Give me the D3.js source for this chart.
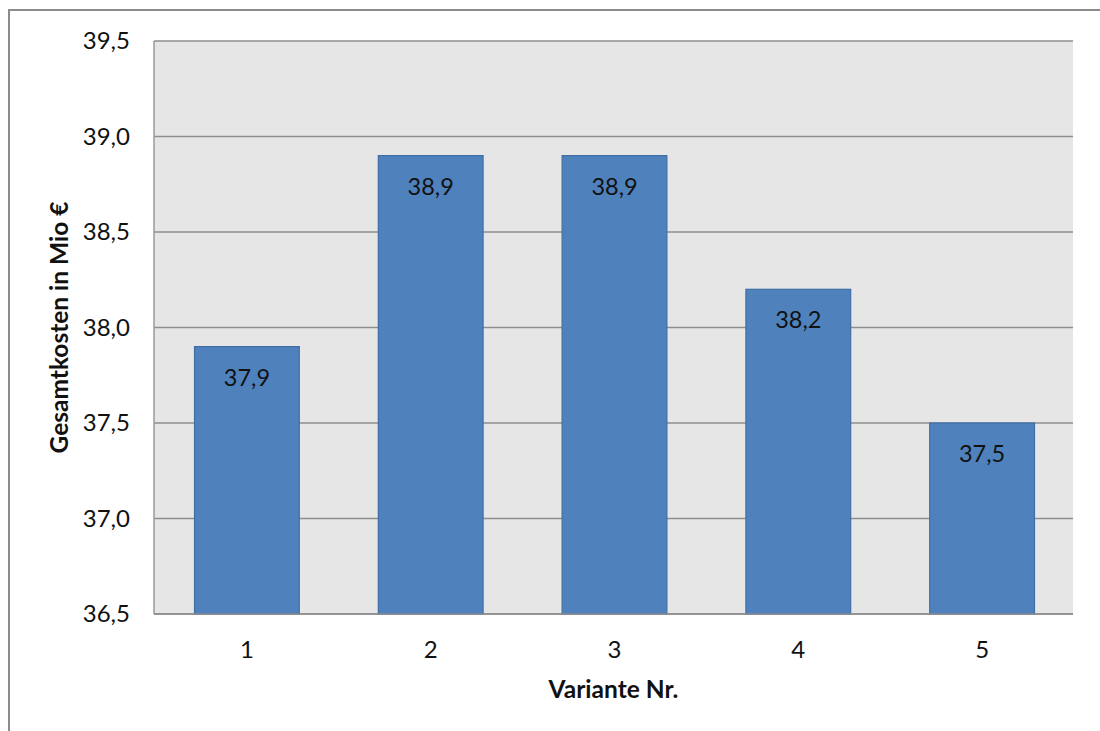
<!DOCTYPE html>
<html><head><meta charset="utf-8">
<script src="https://cdn.jsdelivr.net/npm/d3@7"></script>
<style>body{margin:0;background:#fff}svg{display:block}</style>
</head><body>
<svg id="c" width="1100" height="731"></svg>
<script>
const categories = ["1","2","3","4","5"];
const values = [37.9, 38.9, 38.9, 38.2, 37.5];
const yTicks = [36.5, 37.0, 37.5, 38.0, 38.5, 39.0, 39.5];
const yTitle = "Gesamtkosten in Mio €";
const xTitle = "Variante Nr.";

const svg = d3.select("#c");
const font = "Lato, 'Open Sans', sans-serif";
const m = {l:154, t:41, r:1073, b:614};
const fmt = v => v.toFixed(1).replace(".", ",");

// outer frame
svg.append("rect").attr("x",9).attr("y",10).attr("width",1200).attr("height",800)
  .attr("fill","#fff").attr("stroke","#8c8c8c").attr("stroke-width",2);

const x = d3.scaleBand().domain(categories).range([m.l+1, m.r+1]).paddingInner(0.43).paddingOuter(0.215);
const y = d3.scaleLinear().domain([36.5, 39.5]).range([m.b, m.t]);

svg.append("rect").attr("x",m.l).attr("y",m.t).attr("width",m.r-m.l).attr("height",m.b-m.t)
  .attr("fill","#e6e6e6");

// gridlines
svg.append("g").selectAll("line").data(yTicks).join("line")
  .attr("x1",m.l).attr("x2",m.r).attr("y1",d=>y(d)).attr("y2",d=>y(d))
  .attr("stroke","#8e8e8e").attr("stroke-width",1.5);

// plot border left
svg.append("line").attr("x1",m.l).attr("x2",m.l).attr("y1",m.t).attr("y2",m.b)
  .attr("stroke","#9a9a9a").attr("stroke-width",1.5);

// bars
svg.append("g").selectAll("rect").data(values).join("rect")
  .attr("x",(d,i)=>x(categories[i])).attr("width",x.bandwidth())
  .attr("y",d=>y(d)).attr("height",d=>y(36.5)-y(d))
  .attr("fill","#4f81bd").attr("stroke","#3f6ea6").attr("stroke-width",1.2);

// bottom axis line
svg.append("line").attr("x1",m.l).attr("x2",m.r).attr("y1",m.b).attr("y2",m.b)
  .attr("stroke","#8e8e8e").attr("stroke-width",1.5);

// data labels
svg.append("g").selectAll("text").data(values).join("text")
  .attr("x",(d,i)=>x(categories[i])+x.bandwidth()/2).attr("y",d=>y(d)+39)
  .attr("text-anchor","middle").attr("font-family",font).attr("font-size",23.5).attr("fill","#111")
  .text(d=>fmt(d));

// y tick labels
svg.append("g").selectAll("text").data(yTicks).join("text")
  .attr("x",130).attr("y",d=>y(d)+8).attr("text-anchor","end")
  .attr("font-family",font).attr("font-size",24).attr("fill","#111").text(d=>fmt(d));

// x tick labels
svg.append("g").selectAll("text").data(categories).join("text")
  .attr("x",d=>x(d)+x.bandwidth()/2).attr("y",658).attr("text-anchor","middle")
  .attr("font-family",font).attr("font-size",24).attr("fill","#111").text(d=>d);

// titles
svg.append("text").attr("x",(m.l+m.r)/2).attr("y",698).attr("text-anchor","middle")
  .attr("font-family",font).attr("font-weight","bold").attr("font-size",24.5).attr("fill","#111").text(xTitle);
svg.append("text").attr("transform",`translate(68,${(m.t+m.b)/2}) rotate(-90)`).attr("text-anchor","middle")
  .attr("font-family",font).attr("font-weight","bold").attr("font-size",24.5).attr("fill","#111").text(yTitle);
</script>
</body></html>
